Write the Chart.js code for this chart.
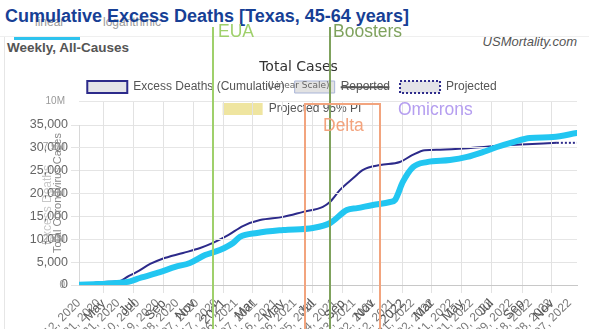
<!DOCTYPE html>
<html>

<head>
    <title>Cumulative Excess Deaths - Texas 45-64</title>
    <script src="https://cdn.jsdelivr.net/npm/chart.js"></script>
    <style>
        body {
            margin: 0;
            background: #fff;
            font-family: "Liberation Sans", Arial, sans-serif;
        }

        #wrap {
            position: relative;
            width: 589px;
            height: 329px;
            overflow: hidden;
            background: #fff;
        }

        #wrap canvas {
            position: absolute;
            left: 0;
            top: 0;
        }

        .txt {
            position: absolute;
            white-space: nowrap;
        }

        #tabs span {
            position: absolute;
            top: 16px;
            font-size: 12px;
            line-height: 12px;
            color: #9a9a9a;
        }

        #main-title {
            left: 5px;
            top: 7px;
            font-size: 18px;
            line-height: 18px;
            font-weight: bold;
            color: #173f95;
        }

        #sub-title {
            left: 7px;
            top: 41px;
            font-size: 13.5px;
            line-height: 13.5px;
            font-weight: bold;
            color: #555;
        }

        #site {
            right: 12px;
            top: 35px;
            font-size: 13px;
            line-height: 13px;
            font-style: italic;
            color: #555;
        }

        #tab-line {
            position: absolute;
            left: 14px;
            top: 37px;
            width: 66px;
            height: 3px;
            background: #2ec3ee;
        }

        #head-rule {
            position: absolute;
            left: 0;
            top: 36px;
            width: 589px;
            height: 1px;
            background: #efefef;
        }

        #side-rule {
            position: absolute;
            left: 4px;
            top: 37px;
            width: 1px;
            height: 292px;
            background: #e6e6e6;
        }
    </style>
</head>

<body>
    <div id="wrap">
        <div id="head-rule"></div>
        <div id="side-rule"></div>
        <div id="tabs">
            <span style="left:35px">linear</span>
            <span style="left:103px">logarithmic</span>
        </div>
        <div id="tab-line"></div>
        <div class="txt" id="main-title">Cumulative Excess Deaths [Texas, 45-64 years]</div>
        <div class="txt" id="sub-title">Weekly, All-Causes</div>
        <div class="txt" id="site">USMortality.com</div>
        <canvas id="deaths-chart" width="589" height="329"></canvas>
        <canvas id="cases-chart" width="589" height="329"></canvas>
    </div>

    <script>
        // dates are counted in days from the first point (Mar 12, 2020)
        const startDate = '2020-03-12';
        const monthNames = ['Jan', 'Feb', 'Mar', 'Apr', 'May', 'Jun', 'Jul', 'Aug', 'Sep', 'Oct', 'Nov', 'Dec'];

        // excess deaths, cumulative (reported part)
        const deathDates = ['2020-03-12', '2020-04-30', '2020-06-04', '2020-06-18', '2020-07-08', '2020-08-04',
            '2020-08-28', '2020-10-10', '2020-11-14', '2020-12-10', '2021-01-10', '2021-02-09', '2021-03-16',
            '2021-05-02', '2021-06-12', '2021-07-22', '2021-08-06', '2021-08-26', '2021-09-22', '2021-10-12',
            '2021-11-16', '2021-12-26', '2022-01-20', '2022-02-15', '2022-03-18', '2022-05-24', '2022-08-01',
            '2022-09-11', '2022-11-11'];
        const deathValues = [0, 650, 900, 1750, 2850, 4600,
            5700, 7000, 8100, 9200, 10900, 12900, 14200,
            14900, 16000, 17100, 18200, 20800, 23400, 25200,
            26250, 26900, 28400, 29500, 29600, 30000, 30600,
            30800, 31100];

        // projected tail (dotted)
        const projDates = ['2022-11-11', '2022-12-22'];
        const projValues = [31100, 31100];

        // total coronavirus cases, cumulative
        const caseDates = ['2020-03-12', '2020-04-24', '2020-06-04', '2020-06-24', '2020-07-14', '2020-08-24',
            '2020-09-24', '2020-10-24', '2020-11-24', '2020-12-24', '2021-01-20', '2021-02-03', '2021-03-10',
            '2021-05-02', '2021-07-02', '2021-08-06', '2021-09-09', '2021-09-30', '2021-11-01', '2021-12-06',
            '2021-12-16', '2022-01-01', '2022-01-22', '2022-02-19', '2022-04-07', '2022-05-12', '2022-06-14',
            '2022-07-12', '2022-08-14', '2022-09-17', '2022-11-03', '2022-12-22'];
        const caseValues = [10000, 50000, 120000, 200000, 380000, 700000,
            980000, 1200000, 1630000, 1900000, 2280000, 2610000, 2830000,
            2990000, 3100000, 3370000, 4080000, 4180000, 4350000, 4510000,
            4620000, 5600000, 6410000, 6680000, 6790000, 6960000, 7230000,
            7500000, 7770000, 7990000, 8040000, 8260000];

        // tick labels
        const deathTickLabels = ['Mar 12, 2020', 'Apr 21, 2020', 'May 31, 2020', 'Jul 10, 2020', 'Aug 19, 2020',
            'Sep 28, 2020', 'Nov 07, 2020', 'Dec 17, 2020', 'Jan 26, 2021', 'Mar 07, 2021', 'Apr 16, 2021',
            'May 26, 2021', 'Jul 05, 2021', 'Aug 14, 2021', 'Sep 23, 2021', 'Nov 02, 2021', 'Dec 12, 2021',
            'Jan 21, 2022', 'Mar 02, 2022', 'Apr 11, 2022', 'May 21, 2022', 'Jun 30, 2022', 'Aug 09, 2022',
            'Sep 18, 2022', 'Oct 28, 2022', 'Dec 07, 2022'];
        const monthTickDates = ['2020-05-01', '2020-07-01', '2020-09-01', '2020-11-01', '2021-01-01', '2021-03-01',
            '2021-05-01', '2021-07-01', '2021-09-01', '2021-11-01', '2022-01-01', '2022-03-01', '2022-05-01',
            '2022-07-01', '2022-09-01', '2022-11-01'];
        const monthTickLabels = ['May', 'Jul', 'Sep', 'Nov', '2021', 'Mar', 'May', 'Jul', 'Sep', 'Nov', '2022',
            'Mar', 'May', 'Jul', 'Sep', 'Nov'];

        // events
        const eventDates = ['2020-12-11', '2021-08-06'];
        const eventNames = ['EUA', 'Boosters'];
        const deltaRange = ['2021-06-16', '2021-11-15'];
        const omicronDate = '2021-12-22';

        const lastDate = '2022-12-22';

        function dayOf(iso) {
            const p = iso.split('-').map(Number);
            const s = startDate.split('-').map(Number);
            return (Date.UTC(p[0], p[1] - 1, p[2]) - Date.UTC(s[0], s[1] - 1, s[2])) / 864e5;
        }

        function labelDay(label) {
            const p = label.replace(',', '').split(' ');
            const m = String(monthNames.indexOf(p[0]) + 1).padStart(2, '0');
            return dayOf(p[2] + '-' + m + '-' + p[1]);
        }

        function points(dates, values) {
            return dates.map((d, i) => ({ x: dayOf(d), y: values[i] }));
        }

        Chart.defaults.font.family = '"Liberation Sans", Arial, sans-serif';
        Chart.defaults.animation = false;

        const navy = '#2c2a8a';
        const boxGrey = '#e3e3e8';

        // deaths chart (bottom layer)
        new Chart(document.getElementById('deaths-chart'), {
            type: 'line',
            data: {
                datasets: [{
                    label: 'Excess Deaths (Cumulative)',
                    data: points(deathDates, deathValues),
                    borderColor: navy,
                    backgroundColor: boxGrey,
                    borderWidth: 2,
                    pointRadius: 0,
                    cubicInterpolationMode: 'monotone'
                }, {
                    label: 'Reported',
                    data: [],
                    hidden: true,
                    borderColor: '#a9b5d8',
                    backgroundColor: '#e2e2e2',
                    borderWidth: 1,
                    pointRadius: 0
                }, {
                    label: 'Projected',
                    data: points(projDates, projValues),
                    borderColor: navy,
                    backgroundColor: boxGrey,
                    borderWidth: 2,
                    borderDash: [2, 2],
                    pointRadius: 0
                }, {
                    label: 'Projected 95% PI',
                    data: [],
                    borderColor: '#efe5a0',
                    backgroundColor: '#efe5a0',
                    borderWidth: 0,
                    pointRadius: 0
                }]
            },
            options: {
                responsive: false,
                layout: { padding: { top: 71, left: 7, right: 12, bottom: 0 } },
                plugins: {
                    legend: {
                        labels: {
                            boxWidth: 40,
                            boxHeight: 12,
                            padding: 10,
                            color: '#555',
                            font: { size: 12 }
                        },
                        onClick: null
                    },
                    tooltip: { enabled: false }
                },
                scales: {
                    x: {
                        type: 'linear',
                        min: 0,
                        max: dayOf(lastDate),
                        afterBuildTicks: s => { s.ticks = deathTickLabels.map(l => ({ value: labelDay(l) })); },
                        afterFit: s => { s.height = 44; },
                        grid: { display: false },
                        border: { color: '#c4c4c4' },
                        ticks: {
                            autoSkip: false,
                            minRotation: 45,
                            maxRotation: 45,
                            color: '#7a7a7a',
                            font: { size: 12 },
                            callback: (v, i) => deathTickLabels[i]
                        }
                    },
                    y: {
                        min: 0,
                        max: 35000,
                        afterFit: s => { s.width = 72; },
                        grid: { color: '#e4e4e4' },
                        border: { color: '#d8d8d8' },
                        ticks: { stepSize: 5000, color: '#666', font: { size: 12.5 } },
                        title: {
                            display: true,
                            text: 'Excess Deaths',
                            color: '#c8c8c8',
                            font: { size: 12 },
                            padding: { top: 33, bottom: 0 }
                        }
                    }
                }
            }
        });

        // event markers for the cases chart
        const eventsPlugin = {
            id: 'events',
            afterDatasetsDraw(chart) {
                const { ctx } = chart;
                const x = chart.scales.x;
                const h = chart.height;
                const colors = ['#9fd06b', '#7fa25d'];
                const offsets = [5, 3];
                ctx.save();
                ctx.font = '17.5px "Liberation Sans", Arial, sans-serif';
                ctx.textBaseline = 'alphabetic';
                ctx.lineWidth = 2;
                eventDates.forEach((d, i) => {
                    const px = Math.round(x.getPixelForValue(dayOf(d)));
                    ctx.strokeStyle = colors[i];
                    ctx.beginPath();
                    ctx.moveTo(px, 27);
                    ctx.lineTo(px, h);
                    ctx.stroke();
                    ctx.fillStyle = colors[i];
                    ctx.fillText(eventNames[i], px + offsets[i], 37);
                });
                // Delta box
                const x1 = Math.round(x.getPixelForValue(dayOf(deltaRange[0])));
                const x2 = Math.round(x.getPixelForValue(dayOf(deltaRange[1])));
                ctx.strokeStyle = '#f2a47e';
                ctx.strokeRect(x1, 104, x2 - x1, h);
                ctx.fillStyle = '#f3a37d';
                ctx.fillText('Delta', x1 + 18, 131);
                // Omicron label
                ctx.fillStyle = '#b59ef0';
                ctx.fillText('Omicrons', x.getPixelForValue(dayOf(omicronDate)), 115);
                ctx.restore();
            }
        };

        // cases chart (top layer, overlaid)
        new Chart(document.getElementById('cases-chart'), {
            type: 'line',
            data: {
                datasets: [{
                    label: 'Total Cases',
                    data: points(caseDates, caseValues),
                    borderColor: '#22c6f1',
                    borderWidth: 6,
                    pointRadius: 0,
                    borderCapStyle: 'round',
                    cubicInterpolationMode: 'monotone'
                }]
            },
            options: {
                responsive: false,
                layout: { padding: { top: 50, left: 20, right: 12, bottom: 0 } },
                plugins: {
                    legend: { display: false },
                    tooltip: { enabled: false },
                    title: {
                        display: true,
                        text: 'Total Cases',
                        color: '#333',
                        font: { family: '"DejaVu Sans", sans-serif', size: 14, weight: 'normal' },
                        padding: { top: 8.6, bottom: 0 }
                    },
                    subtitle: {
                        display: true,
                        text: '(Linear Scale)',
                        color: '#666',
                        font: { family: '"DejaVu Sans", sans-serif', size: 9 },
                        padding: { top: 4.6, bottom: 10.2 }
                    }
                },
                scales: {
                    x: {
                        type: 'linear',
                        min: 0,
                        max: dayOf(lastDate),
                        afterBuildTicks: s => { s.ticks = monthTickDates.map(d => ({ value: dayOf(d) })); },
                        afterFit: s => { s.height = 44; },
                        grid: { color: '#e2e2e2', drawTicks: true },
                        border: { color: '#c8c8c8' },
                        ticks: {
                            autoSkip: false,
                            minRotation: 45,
                            maxRotation: 45,
                            color: '#555',
                            font: { size: 13 },
                            callback: (v, i) => monthTickLabels[i]
                        }
                    },
                    y: {
                        min: 0,
                        max: 10000000,
                        afterFit: s => { s.width = 59; },
                        grid: { color: '#e6e6e6', drawTicks: false },
                        border: { display: false },
                        ticks: {
                            stepSize: 2500000,
                            padding: 14,
                            color: '#999',
                            font: { size: 10 },
                            callback: v => v === 0 ? '0' : (v / 1e6) + 'M'
                        },
                        title: {
                            display: true,
                            text: 'Total Coronavirus Cases',
                            color: '#888',
                            font: { size: 11 },
                            padding: { top: 31, bottom: 0 }
                        }
                    }
                }
            },
            plugins: [eventsPlugin]
        });
    </script>
</body>

</html>
